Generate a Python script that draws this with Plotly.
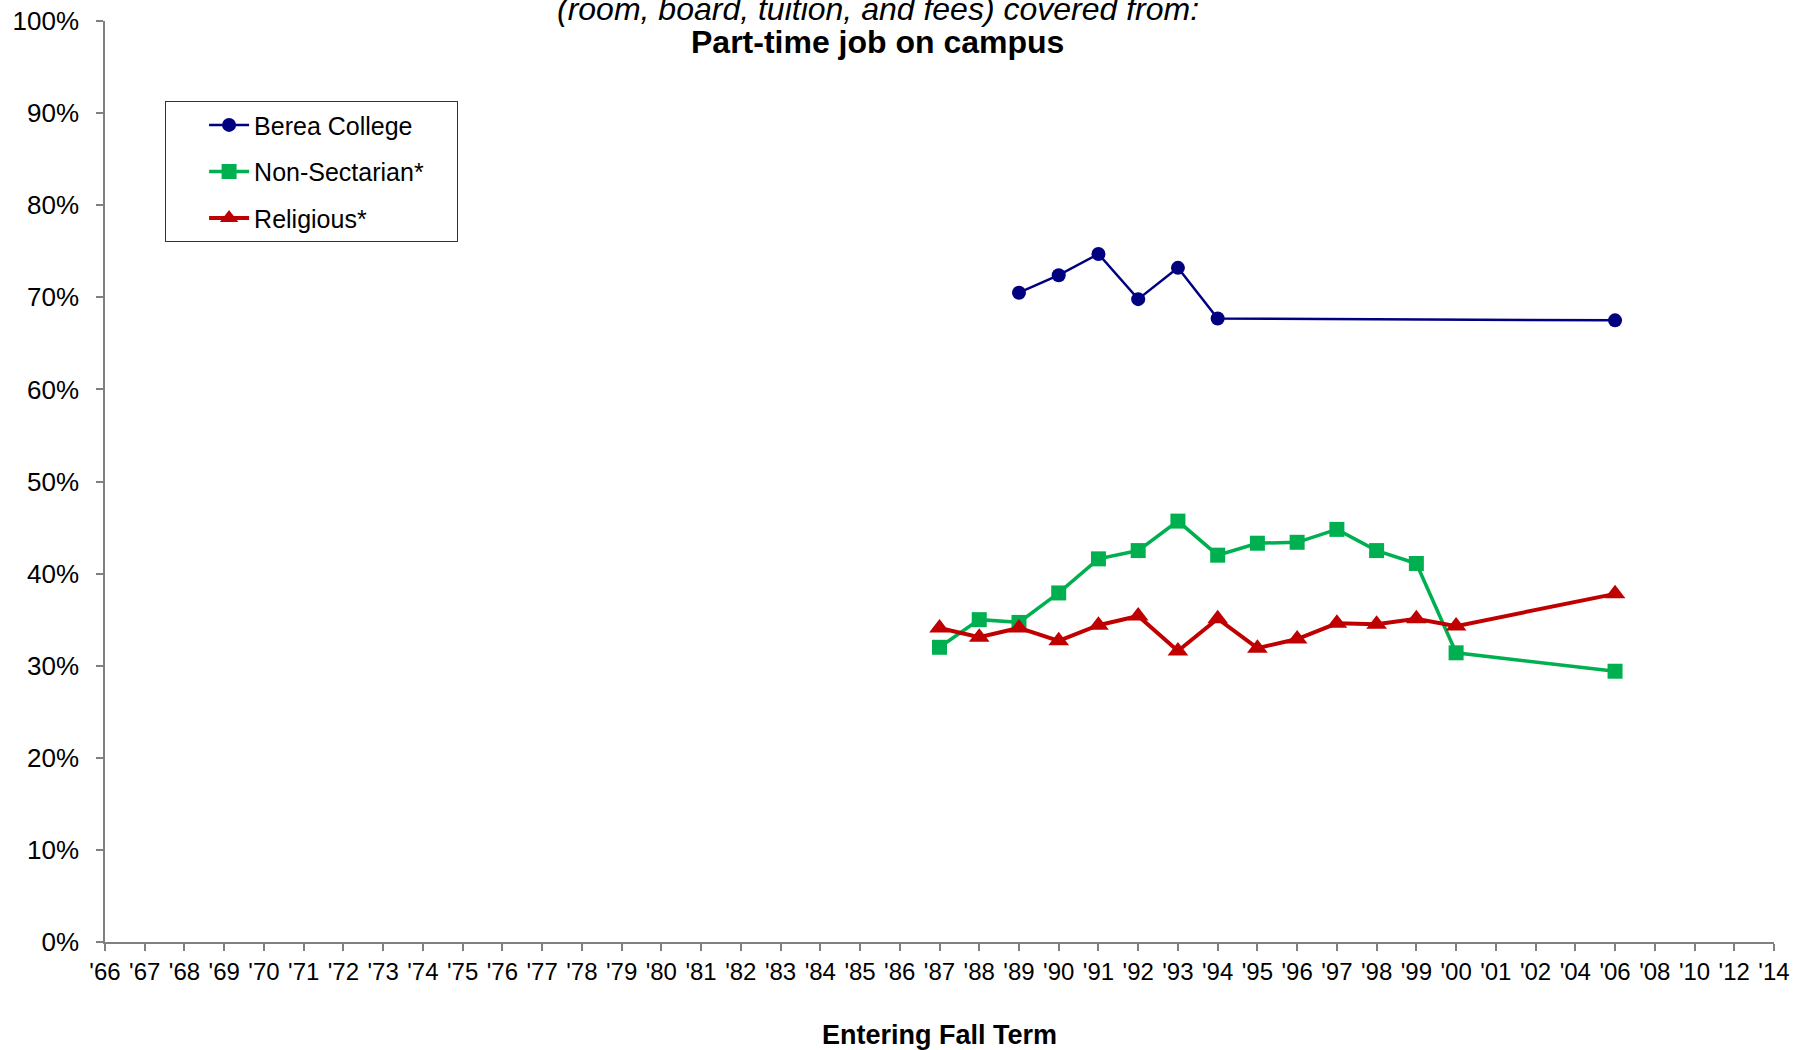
import plotly.graph_objects as go

# X categories (tick labels)
categories = ["'66", "'67", "'68", "'69", "'70", "'71", "'72", "'73", "'74", "'75",
              "'76", "'77", "'78", "'79", "'80", "'81", "'82", "'83", "'84", "'85",
              "'86", "'87", "'88", "'89", "'90", "'91", "'92", "'93", "'94", "'95",
              "'96", "'97", "'98", "'99", "'00", "'01", "'02", "'04", "'06", "'08",
              "'10", "'12", "'14"]

series_names = ["Berea College", "Non-Sectarian*", "Religious*"]

berea_years = ["'89", "'90", "'91", "'92", "'93", "'94", "'06"]
berea_vals = [70.5, 72.4, 74.7, 69.8, 73.2, 67.7, 67.5]

other_years = ["'87", "'88", "'89", "'90", "'91", "'92", "'93", "'94", "'95",
               "'96", "'97", "'98", "'99", "'00", "'06"]
nonsect_vals = [32.0, 35.0, 34.7, 37.9, 41.6, 42.5, 45.7, 42.0, 43.3,
                43.4, 44.8, 42.5, 41.1, 31.4, 29.4]
relig_vals = [34.1, 33.1, 34.1, 32.7, 34.4, 35.4, 31.6, 35.1, 31.9,
              32.9, 34.6, 34.5, 35.1, 34.3, 37.8]

y_ticks = [0, 10, 20, 30, 40, 50, 60, 70, 80, 90, 100]
y_ticktext = [f"{v}%" for v in y_ticks]

def idx(labels):
    return [categories.index(l) for l in labels]

FONT = "Liberation Sans, Arial, sans-serif"
PAD = "\u00a0" * 4  # invisible padding widening the legend box

fig = go.Figure()
fig.add_trace(go.Scatter(
    x=idx(berea_years), y=berea_vals, name=series_names[0], mode="lines+markers",
    line=dict(color="#000080", width=2.5),
    marker=dict(symbol="circle", size=14, color="#000080"),
    legendgroup="a"))
fig.add_trace(go.Scatter(
    x=idx(other_years), y=nonsect_vals, name=series_names[1] + PAD, mode="lines+markers",
    line=dict(color="#00B050", width=3.5),
    marker=dict(symbol="square", size=15, color="#00B050"),
    legendgroup="b"))
fig.add_trace(go.Scatter(
    x=idx(other_years), y=relig_vals, name=series_names[2], mode="lines+markers",
    line=dict(color="#C00000", width=4),
    marker=dict(symbol="triangle-up", size=18, color="#C00000"),
    legendgroup="c"))

fig.update_layout(
    width=1796, height=1050,
    margin=dict(l=105, r=22, t=21, b=108, autoexpand=False),
    paper_bgcolor="white", plot_bgcolor="white",
    font=dict(family=FONT, color="black", size=24),
    showlegend=True,
    legend=dict(
        x=0.036, y=0.913, xanchor="left", yanchor="top",
        bordercolor="#333333", borderwidth=1, bgcolor="white",
        font=dict(size=25, family=FONT),
        tracegroupgap=11, traceorder="grouped",
        indentation=38, itemwidth=40,
    ),
    xaxis=dict(
        automargin=False,
        range=[0, len(categories) - 1],
        tickmode="array", tickvals=list(range(len(categories))), ticktext=categories,
        showline=True, linecolor="#808080", linewidth=1.5,
        ticks="outside", ticklen=7, tickcolor="#808080", tickwidth=1.5,
        showgrid=False, zeroline=False,
        tickfont=dict(size=24, family=FONT),
        tickangle=0,
        title=dict(text="<b>Entering Fall Term</b>", font=dict(size=27, family=FONT), standoff=47),
    ),
    yaxis=dict(
        automargin=False,
        range=[0, 100],
        tickmode="array", tickvals=y_ticks, ticktext=y_ticktext,
        showline=True, linecolor="#808080", linewidth=1.5,
        ticks="outside", ticklen=7, tickcolor="#808080", tickwidth=1.5,
        showgrid=False, zeroline=False,
        tickfont=dict(size=26, family=FONT),
        ticklabelstandoff=12,
    ),
)

ph = 1050 - 21 - 108
fig.add_annotation(
    text="<i>(room, board, tuition, and fees) covered from:</i>",
    xref="paper", yref="paper", x=0.463, y=1 + 12 / ph,
    xanchor="center", yanchor="middle", showarrow=False,
    font=dict(size=32, family=FONT))
fig.add_annotation(
    text="<b>Part-time job on campus</b>",
    xref="paper", yref="paper", x=0.463, y=1 - 21 / ph,
    xanchor="center", yanchor="middle", showarrow=False,
    font=dict(size=32, family=FONT))

# remove the page's default body margin so the figure fills the window exactly
fig.write_html("out.html",
               config={"displayModeBar": False},
               post_script="document.body.style.margin='0';document.body.style.overflow='hidden';")
